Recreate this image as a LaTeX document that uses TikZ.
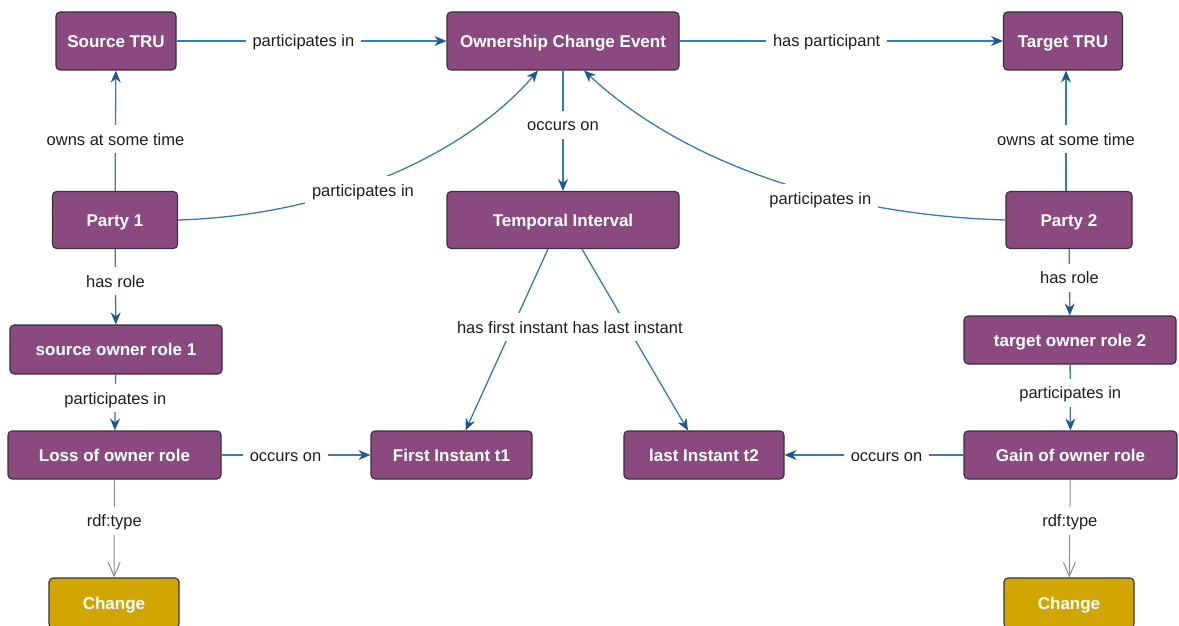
\documentclass[tikz,border=0pt]{standalone}
\usepackage{fontspec}
\setmainfont{Liberation Sans}
\usetikzlibrary{arrows.meta,calc}
\definecolor{classpurple}{RGB}{138,74,128}
\definecolor{typegold}{RGB}{209,166,0}
\definecolor{nodeedge}{RGB}{55,50,55}
\definecolor{edgeblue}{RGB}{56,122,180}
\definecolor{tipblue}{RGB}{28,88,150}
\definecolor{labeltext}{RGB}{30,30,30}
\definecolor{typegray}{RGB}{140,140,140}
\begin{document}
\begin{tikzpicture}[x=1pt,y=-1pt,
  cls/.style={draw=nodeedge, line width=1.1pt, fill=classpurple, rounded corners=4pt,
    text=white, font=\fontsize{17}{20}\selectfont\bfseries, inner sep=0pt,
    text height=12.2pt, text depth=0pt},
  typ/.style={cls, fill=typegold},
  lbl/.style={fill=white, text=labeltext, font=\fontsize{16.5}{19}\selectfont,
    inner xsep=7pt, inner ysep=8pt, text height=12pt, text depth=0pt},
  rel/.style={draw=edgeblue, line width=1.3pt,
    -{Stealth[length=12pt,width=10pt,inset=4pt,color=tipblue]}},
  isa/.style={draw=typegray, line width=1pt,
    -{Straight Barb[length=14pt,width=12pt]}}
]
\useasboundingbox (0,0) rectangle (1179,626);

% classes
\node[cls, minimum width=120pt, minimum height=58pt] (src) at (116,41) {Source TRU};
\node[cls, minimum width=232pt, minimum height=58pt] (oce) at (563,41) {Ownership Change Event};
\node[cls, minimum width=119pt, minimum height=58pt] (tgt) at (1063,41) {Target TRU};
\node[cls, minimum width=125pt, minimum height=57pt] (p1) at (115,220) {Party 1};
\node[cls, minimum width=232pt, minimum height=57pt] (ti) at (563,220) {Temporal Interval};
\node[cls, minimum width=126pt, minimum height=57pt] (p2) at (1069,220) {Party 2};
\node[cls, minimum width=212pt, minimum height=49pt] (sor) at (116,349.5) {source owner role 1};
\node[cls, minimum width=212pt, minimum height=48pt] (tor) at (1070,340) {target owner role 2};
\node[cls, minimum width=213pt, minimum height=48pt] (loss) at (114.5,455) {Loss of owner role};
\node[cls, minimum width=161pt, minimum height=48pt] (t1) at (451.5,455) {First Instant t1};
\node[cls, minimum width=160pt, minimum height=48pt] (t2) at (704,455) {last Instant t2};
\node[cls, minimum width=213pt, minimum height=48pt] (gain) at (1070.5,455) {Gain of owner role};
\node[typ, minimum width=130pt, minimum height=50pt] (chl) at (114,603) {Change};
\node[typ, minimum width=130pt, minimum height=50pt] (chr) at (1069,603) {Change};

% relations
\draw[rel] (src) -- node[lbl, pos=0.47] {participates in} (oce);
\draw[rel] (oce) -- node[lbl, pos=0.455] {has participant} (tgt);
\draw[rel] (p1) -- node[lbl, pos=0.43] {owns at some time} (src);
\draw[rel] ($(p2.north)+(-3,0)$) -- node[lbl, pos=0.43] {owns at some time} ($(tgt.south)+(3,0)$);
\draw[rel] (oce) -- node[lbl, pos=0.45] {occurs on} (ti);
\draw[rel] (p1.east) .. controls (340,215) and (470,150) .. node[lbl, pos=0.42, yshift=-5pt] {participates in} ($(oce.south)+(-25,0)$);
\draw[rel] (p2.west) .. controls (830,215) and (680,160) .. node[lbl, pos=0.375, yshift=-4pt] {participates in} ($(oce.south)+(21,0)$);
\draw[rel] (p1) -- node[lbl, pos=0.43] {has role} (sor);
\draw[rel] (sor) -- node[lbl, pos=0.42] {participates in} (loss);
\draw[rel] (p2) -- node[lbl, pos=0.43] {has role} (tor);
\draw[rel] (tor) -- node[lbl, pos=0.43] {participates in} (gain);
\draw[rel] ($(ti.south)+(-15,0)$) -- node[lbl, pos=0.43, inner xsep=2pt] {has first instant} ($(t1.north)+(14,0)$);
\draw[rel] ($(ti.south)+(19,0)$) -- node[lbl, pos=0.43, inner xsep=2pt] {has last instant} ($(t2.north)+(-16,0)$);
\draw[rel] (loss) -- node[lbl, pos=0.43] {occurs on} (t1);
\draw[rel] (gain) -- node[lbl, pos=0.43] {occurs on} (t2);
\draw[isa] (loss) -- node[lbl, pos=0.42] {rdf:type} (chl);
\draw[isa] (gain) -- node[lbl, pos=0.42] {rdf:type} (chr);
\end{tikzpicture}
\end{document}
